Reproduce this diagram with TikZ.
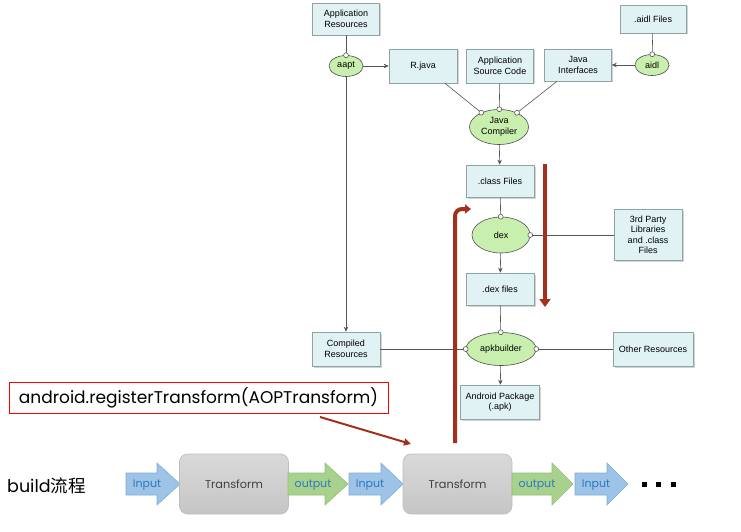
\documentclass[tikz,border=0pt]{standalone}
\usepackage{fontspec}
\setmainfont{Liberation Sans}
\newfontfamily\geo{Poppins}
\newfontfamily\cjk{Noto Sans CJK SC}
\usetikzlibrary{arrows.meta,shadows,shapes.geometric}
\definecolor{boxfill}{HTML}{E0F2F4}
\definecolor{boxline}{HTML}{8FA3A5}
\definecolor{ellfill}{HTML}{C9EFAE}
\definecolor{ellline}{HTML}{4D4D4D}
\definecolor{connc}{HTML}{555555}
\definecolor{rust}{HTML}{A3301B}
\definecolor{inblue}{HTML}{9DC3E6}
\definecolor{inblueline}{HTML}{7FAEDC}
\definecolor{outgreen}{HTML}{A9D18E}
\definecolor{outgreenline}{HTML}{8FC273}
\definecolor{arrtext}{HTML}{2F78C2}
\definecolor{tboxline}{HTML}{BDBDBD}
\tikzset{
  box/.style={draw=boxline, fill=boxfill, line width=0.6pt, inner sep=1pt, align=center,
    font=\fontsize{9}{10.5}\selectfont,
    drop shadow={shadow xshift=1.5pt,shadow yshift=-1.5pt,opacity=0.35}},
  ell/.style={ellipse, draw=ellline, fill=ellfill, line width=0.6pt, inner sep=0pt, align=center,
    font=\fontsize{9}{10.5}\selectfont},
  conn/.style={draw=connc, line width=0.6pt},
  arr/.style={conn, -{Stealth[length=5pt,width=4.5pt]}},
  dotend/.style={conn, -{Circle[fill=white,length=5.5pt]}, shorten >=-2.75pt},
  inarrow/.style={fill=inblue, draw=inblueline, line width=0.6pt},
  outarrow/.style={fill=outgreen, draw=outgreenline, line width=0.6pt},
  arrlabel/.style={font=\geo\fontsize{11}{13}\selectfont, text=arrtext, inner sep=0pt},
  tbox/.style={rounded corners=8pt, top color=gray!30, bottom color=gray!45, draw=tboxline,
    line width=0.6pt, minimum width=109pt, minimum height=60pt,
    font=\geo\fontsize{11.3}{13}\selectfont, text=black!75},
  redline/.style={draw=rust, line width=4pt}
}
\begin{document}
\begin{tikzpicture}[x=1pt,y=-1pt]
\useasboundingbox (0,0) rectangle (741,532);
% boxes
\node[box, minimum width=67pt, minimum height=32pt] (appres) at (346,19) {Application\\Resources};
\node[box, minimum width=66pt, minimum height=28pt] (aidlf) at (653,19) {.aidl Files};
\node[box, minimum width=68pt, minimum height=34pt] (rjava) at (423,66) {R.java};
\node[box, minimum width=67pt, minimum height=34pt] (appsrc) at (500,66) {Application\\Source Code};
\node[box, minimum width=67pt, minimum height=32pt] (javaint) at (578,65) {Java\\Interfaces};
\node[box, minimum width=68pt, minimum height=32pt] (classf) at (500,181) {.class Files};
\node[box, minimum width=68pt, minimum height=51pt] (third) at (648,235) {3rd Party\\Libraries\\and .class\\Files};
\node[box, minimum width=68pt, minimum height=32pt] (dexf) at (500,289) {.dex files};
\node[box, minimum width=68pt, minimum height=34pt] (compres) at (346,349) {Compiled\\Resources};
\node[box, minimum width=80pt, minimum height=34pt] (otherres) at (653,349) {Other Resources};
\node[box, minimum width=79pt, minimum height=34pt] (apk) at (500,402) {Android Package\\(.apk)};
% ellipses
\node[ell, minimum width=34pt, minimum height=21pt] (aapt) at (346,66) {aapt};
\node[ell, minimum width=34pt, minimum height=21pt] (aidl) at (652,65) {aidl};
\node[ell, minimum width=59pt, minimum height=35pt] (jc) at (499,127) {Java\\Compiler};
\node[ell, minimum width=58pt, minimum height=36pt] (dex) at (501,235) {dex};
\node[ell, minimum width=70pt, minimum height=33pt] (apkb) at (501,349) {apkbuilder};
% connectors
\draw[dotend] (appres) -- (aapt);
\draw[arr] (aapt) -- (rjava);
\draw[arr] (aapt) -- (compres);
\draw[dotend] (aidlf) -- (aidl);
\draw[arr] (aidl) -- (javaint);
\draw[dotend] ([xshift=22pt]rjava.south) -- (jc);
\draw[dotend] (appsrc) -- (jc);
\draw[dotend] ([xshift=-21pt]javaint.south) -- (jc);
\draw[arr] (jc) -- (classf);
\draw[dotend] (classf) -- (dex);
\draw[arr] (dex) -- (dexf);
\draw[dotend] (third) -- (dex);
\draw[dotend] (dexf) -- (apkb);
\draw[dotend] (compres) -- (apkb);
\draw[dotend] (otherres) -- (apkb);
\draw[arr] (apkb) -- (apk);
% red annotations
\coordinate (rtop) at (545,164);
\coordinate (rbot) at (545,307);
\draw[redline, -{Triangle[length=8pt,width=11pt]}] (rtop) -- (rbot);
\coordinate (lbot) at (455,443);
\coordinate (lbend) at (455,209);
\coordinate (ltip) at (471,209);
\draw[redline, rounded corners=7pt, -{Triangle[length=6pt,width=9pt]}] (lbot) -- (lbend) -- (ltip);
\node[draw=red, line width=1pt, minimum width=379pt, minimum height=31pt, inner sep=0pt,
  font=\geo\fontsize{17}{20}\selectfont] (reg) at (198.5,397.5) {android.registerTransform(AOPTransform)};
\coordinate (tstart) at (320,417);
\coordinate (tend) at (411,444);
\draw[draw=rust, line width=2pt, -{Triangle[length=7pt,width=7pt]}] (tstart) -- (tend);
% bottom flow
\node[anchor=west, inner sep=0pt, font=\fontsize{17.5}{20}\selectfont] (build) at (7,486) {\geo build\cjk 流程};
\path[inarrow] (126,473) -- (157,473) -- (157,463) -- (180,484) -- (157,505) -- (157,495) -- (126,495) -- cycle;
\node[tbox] (t1) at (234,484) {Transform};
\path[outarrow] (288,473) -- (325,473) -- (325,463) -- (348,484) -- (325,505) -- (325,495) -- (288,495) -- cycle;
\path[inarrow] (349,473) -- (381,473) -- (381,463) -- (403,484) -- (381,505) -- (381,495) -- (349,495) -- cycle;
\node[tbox] (t2) at (457.5,484) {Transform};
\path[outarrow] (512,473) -- (552,473) -- (552,463) -- (573,484) -- (552,505) -- (552,495) -- (512,495) -- cycle;
\path[inarrow] (575,473) -- (607,473) -- (607,463) -- (628,484) -- (607,505) -- (607,495) -- (575,495) -- cycle;
\node[arrlabel] (l1) at (147,485) {Input};
\node[arrlabel] (l2) at (313,485) {output};
\node[arrlabel] (l3) at (370,485) {Input};
\node[arrlabel] (l4) at (537,485) {output};
\node[arrlabel] (l5) at (596,485) {Input};
\fill (642,482) rectangle (647,487);
\fill (656,482) rectangle (661,487);
\fill (671,482) rectangle (676,487);
\end{tikzpicture}
\end{document}
